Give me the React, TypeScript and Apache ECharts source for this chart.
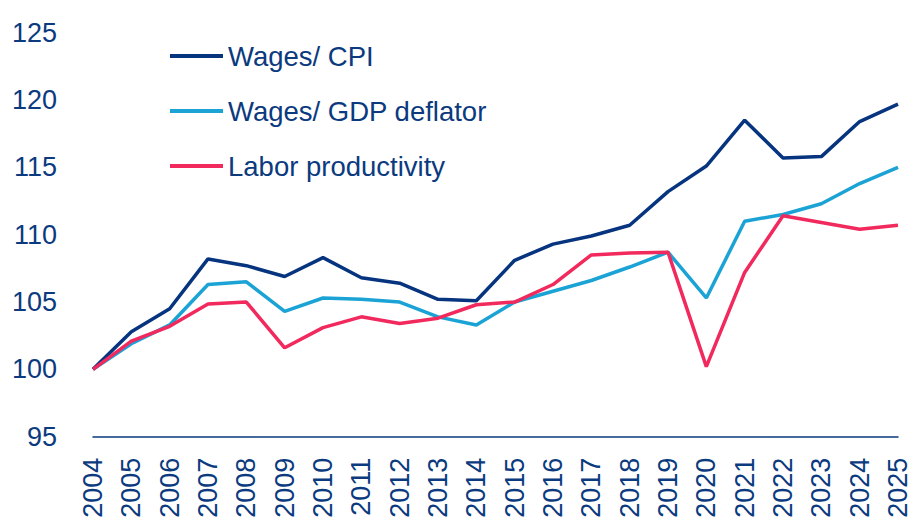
import React, { useEffect, useRef } from "react";
import * as echarts from "echarts";

const years = ["2004","2005","2006","2007","2008","2009","2010","2011","2012","2013","2014","2015","2016","2017","2018","2019","2020","2021","2022","2023","2024","2025"];
const wagesCpi = [100, 102.8, 104.5, 108.2, 107.7, 106.9, 108.3, 106.8, 106.4, 105.2, 105.1, 108.1, 109.3, 109.9, 110.7, 113.2, 115.1, 118.5, 115.7, 115.8, 118.4, 119.7];
const wagesGdp = [100, 101.9, 103.3, 106.3, 106.5, 104.3, 105.3, 105.2, 105.0, 103.9, 103.3, 105.0, 105.8, 106.6, 107.6, 108.7, 105.3, 111.0, 111.5, 112.3, 113.8, 115.0];
const laborProd = [100, 102.1, 103.2, 104.85, 105.0, 101.6, 103.1, 103.9, 103.4, 103.8, 104.8, 105.0, 106.3, 108.5, 108.65, 108.7, 100.2, 107.2, 111.4, 110.9, 110.4, 110.7];
const seriesNames = ["Wages/ CPI", "Wages/ GDP deflator", "Labor productivity"];
const colors = ["#06347f", "#1ba3d6", "#f2295d"];

export default function App() {
  const ref = useRef<HTMLDivElement>(null);
  useEffect(() => {
    if (!ref.current) return;
    document.body.style.margin = "0";
    document.body.style.overflow = "hidden";
    const chart = echarts.init(ref.current, null, { renderer: "svg" });
    const font = "Liberation Sans, Arial, sans-serif";
    const textColor = "#0b3a7e";
    const data = [wagesCpi, wagesGdp, laborProd];
    chart.setOption({
      animation: false,
      grid: { left: 93, right: 11, top: 32.7, bottom: 80.3, containLabel: false, outerBoundsMode: "none" },
      legend: {
        orient: "vertical",
        left: 170,
        top: 41,
        padding: 0,
        itemWidth: 53,
        itemHeight: 4,
        itemGap: 25,
        icon: "rect",
        textStyle: { color: textColor, fontSize: 27.5, fontFamily: font, lineHeight: 30, padding: [0, 0, 0, 0] },
        data: seriesNames,
      },
      xAxis: {
        type: "category",
        data: years,
        boundaryGap: false,
        axisLine: { lineStyle: { color: "#0b3a7e", width: 1.5 } },
        axisTick: { show: false },
        axisLabel: { rotate: 90, margin: 21, color: textColor, fontSize: 27, fontFamily: font, interval: 0 },
        splitLine: { show: false },
      },
      yAxis: {
        type: "value",
        min: 95,
        max: 125,
        interval: 5,
        axisLine: { show: false },
        axisTick: { show: false },
        splitLine: { show: false },
        axisLabel: { margin: 36, color: textColor, fontSize: 27, fontFamily: font },
      },
      series: seriesNames.map((name, i) => ({
        name,
        type: "line",
        data: data[i],
        symbol: "none",
        lineStyle: { color: colors[i], width: 3.5 },
        itemStyle: { color: colors[i] },
        z: i === 2 ? 6 : 3 - i,
      })),
    });
    return () => chart.dispose();
  }, []);
  return <div ref={ref} style={{ width: 909, height: 517, position: "absolute", left: 0, top: 0, overflow: "hidden", background: "#fff" }} />;
}
